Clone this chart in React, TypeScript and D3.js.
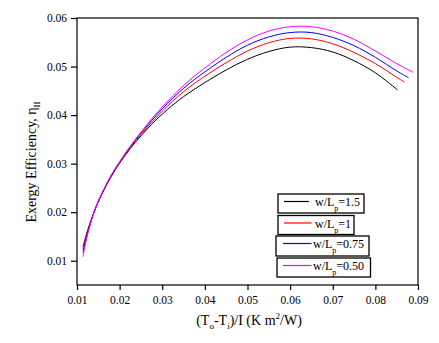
import React, { useEffect, useRef } from 'react';
import * as d3 from 'd3';

// x values, (To-Ti)/I
const xs = [0.0114, 0.012, 0.013, 0.0145, 0.016, 0.018, 0.02, 0.0225, 0.025, 0.0275, 0.03, 0.0325, 0.035, 0.0375, 0.04, 0.045, 0.05, 0.055, 0.06, 0.065, 0.07, 0.075, 0.08, 0.085];

const wl150 = [0.0128, 0.0148, 0.0176, 0.0211, 0.0240, 0.0273, 0.0301, 0.0331, 0.0357, 0.0381, 0.0402, 0.0421, 0.0438, 0.0453, 0.0467, 0.0493, 0.0515, 0.0531, 0.0540, 0.0539, 0.0530, 0.0512, 0.0487];
const wl100 = [0.0122, 0.0144, 0.0175, 0.0212, 0.0241, 0.0274, 0.0302, 0.0333, 0.0360, 0.0385, 0.0408, 0.0429, 0.0448, 0.0465, 0.0480, 0.0508, 0.0532, 0.0549, 0.0558, 0.0557, 0.0547, 0.0529, 0.0506, 0.0478];
const wl075 = [0.0116, 0.0140, 0.0173, 0.0212, 0.0241, 0.0275, 0.0303, 0.0335, 0.0363, 0.0389, 0.0413, 0.0435, 0.0455, 0.0473, 0.0489, 0.0519, 0.0544, 0.0561, 0.0570, 0.0570, 0.0560, 0.0543, 0.0519, 0.0491];
const wl050 = [0.0108, 0.0136, 0.0171, 0.0212, 0.0242, 0.0276, 0.0304, 0.0336, 0.0365, 0.0392, 0.0417, 0.0440, 0.0461, 0.0480, 0.0497, 0.0529, 0.0555, 0.0573, 0.0582, 0.0582, 0.0573, 0.0556, 0.0532, 0.0506];

// last point of each curve (curves stop at different x)
const endX = [0.0852, 0.0868, 0.0878, 0.0889];
const endY = [0.0452, 0.0468, 0.0477, 0.0488];

const legendLabels = ['1.5', '1', '0.75', '0.50'];
const colors = ['#000000', '#ff0000', '#0000ff', '#ff00ff'];
const xTicks = [0.01, 0.02, 0.03, 0.04, 0.05, 0.06, 0.07, 0.08, 0.09];
const yTicks = [0.01, 0.02, 0.03, 0.04, 0.05, 0.06];

export default function App() {
  const ref = useRef<SVGSVGElement>(null);

  useEffect(() => {
    const svg = d3.select(ref.current);
    svg.selectAll('*').remove();
    const left = 77, right = 418, top = 18, bottom = 285;
    const x = d3.scaleLinear().domain([0.01, 0.09]).range([left, right]);
    const y = d3.scaleLinear().domain([0.005, 0.06]).range([bottom, top]);
    const font = '"Liberation Serif", "Times New Roman", serif';

    const series = [wl150, wl100, wl075, wl050].map((vals, i) => {
      const pts: [number, number][] = [];
      vals.forEach((v, j) => { if (xs[j] < endX[i]) pts.push([xs[j], v]); });
      pts.push([endX[i], endY[i]]);
      return pts;
    });

    const line = d3.line<[number, number]>().x(d => x(d[0])).y(d => y(d[1])).curve(d3.curveCatmullRom.alpha(0.5));
    svg.append('g').selectAll('path').data(series).enter().append('path')
      .attr('d', d => line(d))
      .attr('fill', 'none')
      .attr('stroke', (_d, i) => colors[i])
      .attr('stroke-width', 1);

    // frame
    svg.append('rect').attr('x', left).attr('y', top).attr('width', right - left).attr('height', bottom - top)
      .attr('fill', 'none').attr('stroke', '#000').attr('stroke-width', 1.2);

    const xAxis = svg.append('g').attr('transform', `translate(0,${bottom})`)
      .call(d3.axisBottom(x).tickValues(xTicks).tickSize(5).tickSizeOuter(0).tickPadding(6).tickFormat(d3.format('.2f')));
    const yAxis = svg.append('g').attr('transform', `translate(${left},0)`)
      .call(d3.axisLeft(y).tickValues(yTicks).tickSize(6).tickSizeOuter(0).tickPadding(4).tickFormat(d3.format('.2f')));
    [xAxis, yAxis].forEach(a => {
      a.select('.domain').remove();
      a.selectAll('line').attr('stroke', '#000').attr('stroke-width', 1.2);
      a.selectAll('text').attr('font-family', font).attr('font-size', 11.5).attr('fill', '#000');
    });

    // legend boxes
    const boxes = [
      { x: 278, y: 194, w: 86, h: 19 },
      { x: 278, y: 215.5, w: 76, h: 19 },
      { x: 276, y: 236, w: 93, h: 20 },
      { x: 277, y: 258, w: 93.5, h: 19 },
    ];
    const lineX = [[284, 309], [284, 311.5], [283, 311.5], [283, 311.5]];
    const textX = [315, 315, 313, 313];
    boxes.forEach((b, i) => {
      const g = svg.append('g');
      g.append('rect').attr('x', b.x).attr('y', b.y).attr('width', b.w).attr('height', b.h)
        .attr('fill', '#fff').attr('stroke', '#000').attr('stroke-width', 1.3);
      const ly = b.y + 7.5;
      g.append('line').attr('x1', lineX[i][0]).attr('x2', lineX[i][1]).attr('y1', ly).attr('y2', ly)
        .attr('stroke', colors[i]).attr('stroke-width', 1.2);
      const t = g.append('text').attr('x', textX[i]).attr('y', b.y + 12).attr('font-family', font).attr('font-size', 12).attr('fill', '#000');
      t.append('tspan').text('w/L');
      t.append('tspan').attr('dy', 5).attr('font-size', 8).text('p');
      t.append('tspan').attr('dy', -5).text('=' + legendLabels[i]);
    });

    // x label
    const xl = svg.append('text').attr('x', 249).attr('y', 325).attr('text-anchor', 'middle')
      .attr('font-family', font).attr('font-size', 14).attr('fill', '#000');
    xl.append('tspan').text('(T');
    xl.append('tspan').attr('dy', 4).attr('font-size', 9).text('o');
    xl.append('tspan').attr('dy', -4).text('-T');
    xl.append('tspan').attr('dy', 4).attr('font-size', 9).text('i');
    xl.append('tspan').attr('dy', -4).text(')/I (K m');
    xl.append('tspan').attr('dy', -6).attr('font-size', 9).text('2');
    xl.append('tspan').attr('dy', 6).text('/W)');

    // y label
    const yl = svg.append('text').attr('transform', 'translate(36,162) rotate(-90)').attr('text-anchor', 'middle')
      .attr('font-family', font).attr('font-size', 14).attr('fill', '#000');
    yl.append('tspan').text('Exergy Efficiency, η');
    yl.append('tspan').attr('dy', 4).attr('font-size', 9).text('II');
  }, []);

  return (
    <svg ref={ref} width={439} height={343} style={{ position: 'absolute', left: 0, top: 0, background: '#fff' }} />
  );
}
